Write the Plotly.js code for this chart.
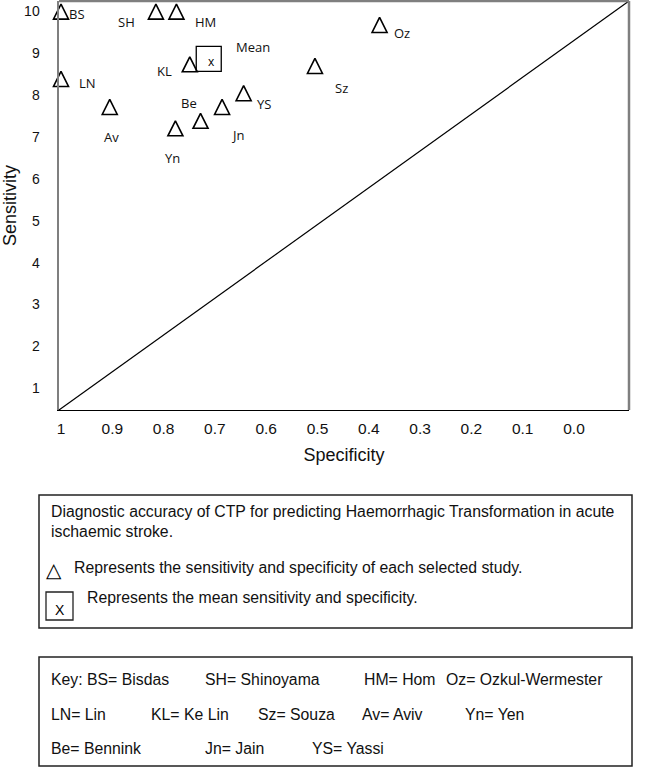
<!DOCTYPE html>
<html><head><meta charset="utf-8">
<script src="https://cdn.plot.ly/plotly-3.0.1.min.js"></script>
<style>html,body{margin:0;padding:0;background:#fff;} #chart{width:649px;height:769px;}</style>
</head><body><div id="chart"></div>
<script>
// ---- data ----
const studies      = ['BS','SH','HM','Oz','LN','KL','Sz','Av','Yn','Be','Jn','YS'];
const specificity  = [1.0, 0.815, 0.775, 0.379, 1.0, 0.749, 0.505, 0.905, 0.777, 0.728, 0.686, 0.644];
const sensitivity  = [10.0, 10.0, 10.0, 9.68, 8.39, 8.74, 8.70, 7.72, 7.21, 7.39, 7.72, 8.05];
const meanSpecificity = [0.712];
const meanSensitivity = [8.87];
const meanLabel = 'Mean';
const xTickVals = [1, 0.9, 0.8, 0.7, 0.6, 0.5, 0.4, 0.3, 0.2, 0.1, 0.0];
const xTickText = ['1','0.9','0.8','0.7','0.6','0.5','0.4','0.3','0.2','0.1','0.0'];
const yTickVals = [1,2,3,4,5,6,7,8,9,10];
const captionLines = ['Diagnostic accuracy of CTP for predicting Haemorrhagic Transformation in acute',
                      'ischaemic stroke.'];
const legendStudyText = 'Represents the sensitivity and specificity of each selected study.';
const legendMeanText  = 'Represents the mean sensitivity and specificity.';
const keyRow1 = ['Key: BS= Bisdas','SH= Shinoyama','HM= Hom','Oz= Ozkul-Wermester'];
const keyRow2 = ['LN= Lin','KL= Ke Lin','Sz= Souza','Av= Aviv','Yn= Yen'];
const keyRow3 = ['Be= Bennink','Jn= Jain','YS= Yassi'];

// ---- layout helpers (pixel -> paper) ----
const L = 59, T = 1, W = 570, H = 409;
const px = x => (x - L) / W;
const py = y => (T + H - y) / H;

// label offsets in pixels (dx right, dy down) relative to each triangle
const labelOffset = {
  BS:[16,2], SH:[-29,10], HM:[29,10], Oz:[22,8], LN:[26,4], KL:[-25,7],
  Sz:[27,22], Av:[2,30], Yn:[-3,30], Be:[-12,-18], Jn:[15,28], YS:[20,11]
};

const TRI = '\u25B3';
const triFont   = {family:'DejaVu Sans, sans-serif', size:20, color:'#000', weight:'bold'};
const labelFont = {family:'Open Sans, Lato, sans-serif', size:13, color:'#111'};
const bodyFont  = {family:'Liberation Sans, Arial, sans-serif', size:15.8, color:'#111'};

const traces = [
  {
    // open triangle centred on each study point (arrow glyph turned to point up, shifted by half its height)
    type:'scatter', mode:'markers', x:specificity, y:sensitivity,
    marker:{symbol:'arrow-down-open', angle:180, size:15, standoff:7.5, color:'#000', line:{width:1.6, color:'#000'}},
    hoverinfo:'skip', showlegend:false, cliponaxis:false
  },
  {
    type:'scatter', mode:'markers', x:meanSpecificity, y:meanSensitivity,
    marker:{symbol:'square-open', size:25, color:'#000', line:{width:1.3, color:'#000'}},
    hoverinfo:'skip', showlegend:false, cliponaxis:false
  }
];

const annotations = [];
studies.forEach((s, i) => {
  const o = labelOffset[s];
  annotations.push({x:specificity[i], y:sensitivity[i], xref:'x', yref:'y', text:s, showarrow:false,
    xshift:o[0], yshift:-o[1], font:labelFont, xanchor:'center', yanchor:'middle'});
});
annotations.push({x:meanSpecificity[0], y:meanSensitivity[0], xref:'x', yref:'y', text:'x',
  showarrow:false, xshift:3, yshift:-3, font:{family:'Open Sans, sans-serif', size:12, color:'#000'}});
annotations.push({x:meanSpecificity[0], y:meanSensitivity[0], xref:'x', yref:'y', text:meanLabel,
  showarrow:false, xshift:44, yshift:12, font:labelFont});

// caption box texts
const capY = [511, 531];
captionLines.forEach((t, i) => annotations.push({x:px(50), y:py(capY[i]), xref:'paper', yref:'paper',
  text:t, showarrow:false, xanchor:'left', yanchor:'middle', font:bodyFont, borderpad:0}));
annotations.push({x:px(54), y:py(570), xref:'paper', yref:'paper', text:TRI, showarrow:false,
  xanchor:'center', yanchor:'middle', font:triFont, borderpad:0});
annotations.push({x:px(73), y:py(567), xref:'paper', yref:'paper', text:legendStudyText, showarrow:false,
  xanchor:'left', yanchor:'middle', font:bodyFont, borderpad:0});
annotations.push({x:px(60), y:py(610), xref:'paper', yref:'paper', text:'X', showarrow:false,
  xanchor:'center', yanchor:'middle', font:{family:'Liberation Sans, Arial, sans-serif', size:14, color:'#000'}, borderpad:0});
annotations.push({x:px(86), y:py(597), xref:'paper', yref:'paper', text:legendMeanText, showarrow:false,
  xanchor:'left', yanchor:'middle', font:bodyFont, borderpad:0});

// key box texts
const keyFont = {family:'Liberation Sans, Arial, sans-serif', size:15.8, color:'#111'};
const rows = [[keyRow1, [50,204,363,445], 679], [keyRow2, [50,150,257,361,464], 714], [keyRow3, [50,204,311], 748]];
rows.forEach(([items, xs, y]) => items.forEach((t, j) => annotations.push({x:px(xs[j]), y:py(y),
  xref:'paper', yref:'paper', text:t, showarrow:false, xanchor:'left', yanchor:'middle', font:keyFont, borderpad:0})));

const grey = '#7f7f7f';
const shapes = [
  // chance diagonal
  {type:'line', xref:'paper', yref:'paper', x0:0, y0:0, x1:1, y1:1, line:{color:'#000', width:1.2}},
  // top & right frame
  {type:'line', xref:'paper', yref:'paper', x0:0, y0:1, x1:1, y1:1, line:{color:grey, width:2.5}},
  {type:'line', xref:'paper', yref:'paper', x0:1, y0:0, x1:1, y1:1, line:{color:grey, width:2.5}},
  // caption box
  {type:'rect', xref:'paper', yref:'paper', x0:px(39), x1:px(632), y0:py(628), y1:py(495), line:{color:'#222', width:1.5}},
  // small mean-symbol box in caption
  {type:'rect', xref:'paper', yref:'paper', x0:px(46), x1:px(73), y0:py(620), y1:py(592), line:{color:'#222', width:1.3}},
  // key box
  {type:'rect', xref:'paper', yref:'paper', x0:px(39), x1:px(632), y0:py(766), y1:py(657), line:{color:'#222', width:1.5}}
];

const layout = {
  width:649, height:769,
  margin:{l:L, r:649 - L - W, t:T, b:769 - T - H, pad:0},
  paper_bgcolor:'#fff', plot_bgcolor:'#fff',
  showlegend:false,
  xaxis:{range:[1.0039, -0.1072], tickmode:'array', tickvals:xTickVals, ticktext:xTickText,
    showgrid:false, zeroline:false, showline:true, linecolor:'#000', linewidth:1.2, ticks:'',
    ticklabelstandoff:4, automargin:false,
    tickfont:{family:'Liberation Sans, Arial, sans-serif', size:15.5, color:'#111'},
    title:{text:'Specificity', font:{family:'Liberation Sans, Arial, sans-serif', size:18, color:'#111'}, standoff:12}},
  yaxis:{range:[0.478, 10.253], tickmode:'array', tickvals:yTickVals,
    showgrid:false, zeroline:false, showline:true, linecolor:grey, linewidth:2.5, ticks:'',
    ticklabelstandoff:14, automargin:false,
    tickfont:{family:'Liberation Sans, Arial, sans-serif', size:14, color:'#111'},
    title:{text:'Sensitivity', font:{family:'Liberation Sans, Arial, sans-serif', size:18, color:'#111'}, standoff:8}},
  shapes, annotations
};

Plotly.newPlot('chart', traces, layout, {staticPlot:true, displayModeBar:false});
</script></body></html>
